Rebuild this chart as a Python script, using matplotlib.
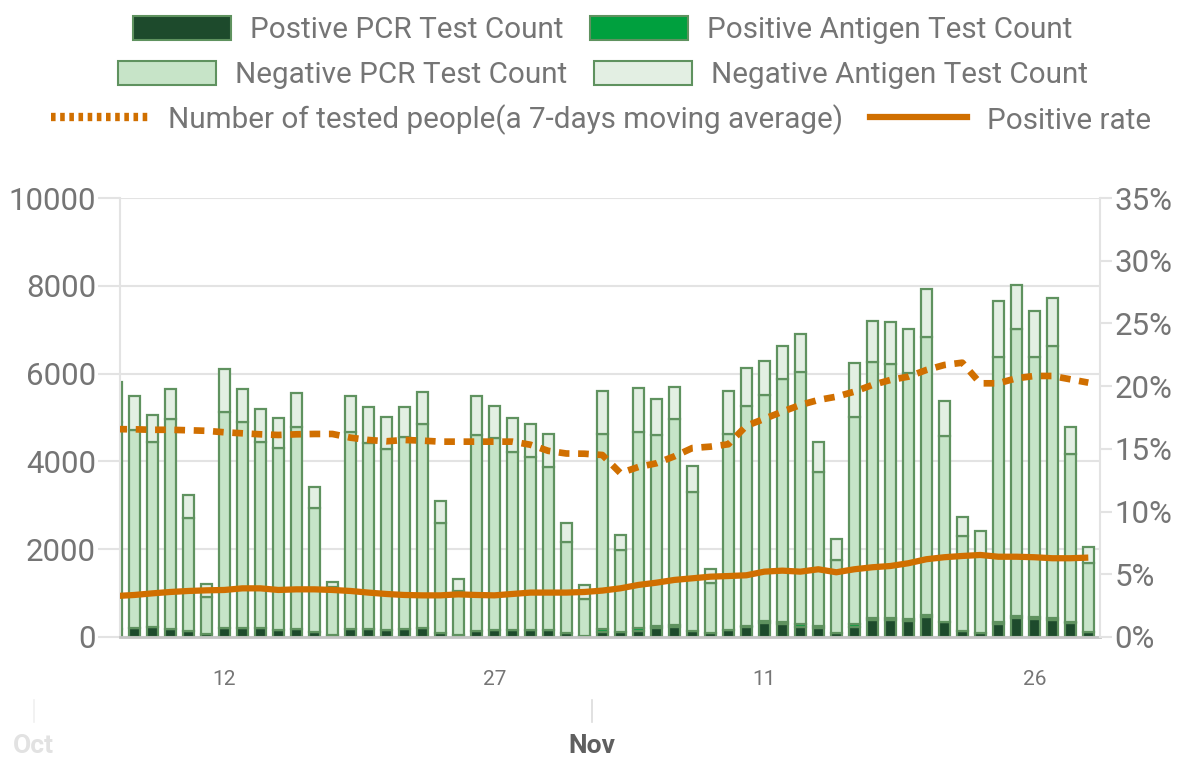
import numpy as np
import pandas as pd
import matplotlib
matplotlib.use("Agg")
import matplotlib.pyplot as plt
import matplotlib.dates as mdates
import matplotlib.transforms as mtransforms
from matplotlib.patches import Patch
from matplotlib.lines import Line2D

plt.rcParams['font.family'] = ['Roboto', 'DejaVu Sans']

# daily data, Oct 6 .. Nov 29
dates = pd.date_range("2020-10-06", "2020-11-29", freq="D")

pos_pcr = [180, 197, 220, 175, 137, 60, 197, 197, 197, 160, 175, 121, 45, 175, 190, 160, 175, 197,
           100, 45, 137, 160, 160, 160, 160, 83, 30, 121, 121, 144, 197, 235, 144, 83, 160, 220,
           326, 296, 235, 212, 83, 235, 387, 387, 364, 448, 349, 137, 83, 296, 425, 410, 387, 311, 121]
pos_ag = [0, 0, 0, 0, 0, 0, 0, 0, 0, 0, 0, 0, 0, 0, 0, 0, 0, 0,
          0, 0, 0, 0, 0, 0, 0, 0, 0, 50, 0, 50, 50, 40, 0, 0, 0, 40,
          40, 45, 50, 30, 0, 50, 50, 40, 45, 50, 0, 0, 0, 50, 60, 50, 45, 40, 0]
neg_pcr = [4720, 4518, 4230, 4783, 2566, 844, 4921, 4693, 4253, 4153, 4617, 2810, 1105, 4487, 4222,
           4115, 4388, 4648, 2489, 1003, 4465, 4381, 4062, 3933, 3720, 2089, 836, 4447, 1861, 4483,
           4362, 4683, 3166, 1146, 4464, 5002, 5147, 5529, 5759, 3509, 1678, 4719, 5835, 5784, 5612,
           6344, 4230, 2156, 1777, 6040, 6524, 5926, 6205, 3818, 1557]
neg_ag = [916, 775, 607, 684, 532, 311, 987, 760, 736, 684, 774, 494, 110, 828, 835, 728, 669, 728,
          517, 273, 888, 721, 767, 752, 744, 417, 319, 978, 342, 987, 813, 744, 585, 310, 987, 858,
          782, 767, 851, 699, 464, 1230, 926, 957, 995, 1078, 797, 433, 557, 1276, 1002, 1048, 1093,
          607, 372]

tested_ma = [4735, 4731, 4720, 4720, 4709, 4697, 4663, 4640, 4617, 4602, 4617, 4625, 4625, 4541,
             4488, 4458, 4488, 4473, 4450, 4450, 4450, 4450, 4450, 4380, 4240, 4180, 4175, 4146,
             3735, 3872, 3957, 4115, 4305, 4336, 4390, 4810, 4970, 5133, 5285, 5399, 5474, 5588,
             5741, 5854, 5930, 6082, 6196, 6249, 5779, 5779, 5893, 5946, 5946, 5870, 5794]
pos_rate = [3.27, 3.35, 3.48, 3.59, 3.67, 3.72, 3.75, 3.88, 3.88, 3.75, 3.80, 3.80, 3.75, 3.67,
            3.54, 3.43, 3.35, 3.32, 3.32, 3.40, 3.35, 3.32, 3.43, 3.54, 3.54, 3.54, 3.59, 3.70,
            3.88, 4.15, 4.33, 4.55, 4.68, 4.81, 4.86, 4.92, 5.21, 5.29, 5.21, 5.40, 5.16, 5.40,
            5.56, 5.66, 5.88, 6.20, 6.36, 6.46, 6.54, 6.40, 6.40, 6.36, 6.28, 6.28, 6.33]

day_ticks = ["2020-10-12", "2020-10-27", "2020-11-11", "2020-11-26"]
months = ["2020-10-01", "2020-11-01"]
month_names = ["Oct", "Nov"]

labels = ["Postive PCR Test Count", "Positive Antigen Test Count",
          "Negative PCR Test Count", "Negative Antigen Test Count",
          "Number of tested people(a 7-days moving average)", "Positive rate"]

# colours
c_pos_pcr = "#1d4a2c"
c_pos_ag = "#00a03e"
c_neg_pcr = "#c7e4c8"
c_neg_ag = "#e3efe3"
c_edge = "#5f925f"
c_orange = "#d06f00"
c_text = "#757575"
c_grid = "#e3e3e3"

fig = plt.figure(figsize=(11.9, 7.58), dpi=100)
ax = fig.add_axes([120 / 1190, 121 / 758, 980 / 1190, 439 / 758])

x = mdates.date2num(dates)
w = 0.6
bottom = np.zeros(len(x))
for vals, col in [(pos_pcr, c_pos_pcr), (pos_ag, c_pos_ag), (neg_pcr, c_neg_pcr), (neg_ag, c_neg_ag)]:
    vals = np.array(vals, dtype=float)
    ax.bar(x, vals, w, bottom=bottom, color=col, edgecolor=c_edge, linewidth=1.6, zorder=2)
    bottom += vals

ax.plot(x, tested_ma, color=c_orange, lw=4.8, linestyle=(0, (1.6, 1.3)), zorder=4)

ax.set_xlim(x[0] + 0.2, x[-1] + 0.65)
ax.set_ylim(0, 10000)
ax.set_yticks(np.arange(0, 10001, 2000))
ax.grid(axis='y', color=c_grid, linewidth=1.5, zorder=0)
ax.set_axisbelow(True)
ax.tick_params(axis='y', length=15.8, width=1.5, color=c_grid, pad=1.5, labelsize=22.5, labelcolor=c_text)

tick_x = mdates.date2num(pd.to_datetime(day_ticks))
ax.set_xticks(tick_x)
ax.set_xticklabels([str(pd.Timestamp(d).day) for d in day_ticks])
ax.tick_params(axis='x', length=0, pad=24, labelsize=15, labelcolor=c_text)

for side in ['top', 'right']:
    ax.spines[side].set_visible(False)
ax.spines['left'].set_color(c_grid)
ax.spines['left'].set_linewidth(1.5)
ax.spines['bottom'].set_color("#c4c4c4")
ax.spines['bottom'].set_linewidth(2)

ax2 = ax.twinx()
ax2.plot(x, pos_rate, color=c_orange, lw=4.5, solid_capstyle='butt', zorder=5)
ax2.set_ylim(0, 35)
ax2.set_yticks(np.arange(0, 36, 5))
ax2.set_yticklabels([f"{v}%" for v in range(0, 36, 5)])
ax2.tick_params(axis='y', length=8.6, width=1.5, color=c_grid, pad=2, labelsize=22.5, labelcolor=c_text)
for side in ['top', 'left', 'bottom']:
    ax2.spines[side].set_visible(False)
ax2.spines['right'].set_color(c_grid)
ax2.spines['right'].set_linewidth(1.5)

# month labels below the day labels
trans = mtransforms.blended_transform_factory(ax.transData, fig.transFigure)
for m, name in zip(months, month_names):
    xm = mdates.date2num(pd.Timestamp(m)) + 0.4
    col = "#e2e2e2" if name == "Oct" else "#5f5f5f"
    lcol = "#f0f0f0" if name == "Oct" else "#dcdcdc"
    ax.plot([xm, xm], [0.0765, 0.0475], color=lcol, lw=1.2, transform=trans, clip_on=False)
    ax.text(xm, 0.0158, name, transform=trans, ha='center', va='center',
            fontsize=19, fontweight='bold', color=col)

# legend, three centred rows
handles = [
    Patch(facecolor=c_pos_pcr, edgecolor=c_edge, linewidth=1.5),
    Patch(facecolor=c_pos_ag, edgecolor=c_edge, linewidth=1.5),
    Patch(facecolor=c_neg_pcr, edgecolor=c_edge, linewidth=1.5),
    Patch(facecolor=c_neg_ag, edgecolor=c_edge, linewidth=1.5),
    Line2D([], [], color=c_orange, lw=6, linestyle=(0, (0.55, 0.55))),
    Line2D([], [], color=c_orange, lw=4.5),
]
rows = [(0, 603, 30), (2, 603, 75), (4, 601, 120)]
for i, xc, yc in rows:
    leg = fig.legend(handles[i:i + 2], labels[i:i + 2], ncol=2, loc='center',
                     bbox_to_anchor=(xc / 1190, 1 - yc / 758), frameon=False,
                     fontsize=21.3, handlelength=3.3, handleheight=0.9,
                     handletextpad=0.65, columnspacing=0.9, borderpad=0, borderaxespad=0)
    for t in leg.get_texts():
        t.set_color(c_text)

fig.savefig("out.png", dpi=100)
